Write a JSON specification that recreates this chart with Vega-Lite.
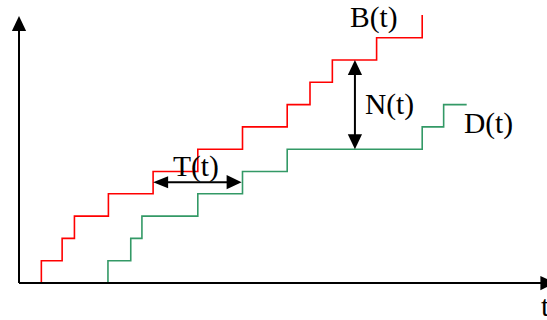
{
  "$schema": "https://vega.github.io/schema/vega-lite/v6.json",
  "width": 528,
  "height": 283,
  "padding": {"left": 19, "top": 0, "right": 0, "bottom": 37},
  "autosize": {"type": "none"},
  "background": "white",
  "config": {"view": {"stroke": null}},
  "datasets": {
    "steps": [
      {"series": "B", "i": 0, "t": 1, "n": 0},
      {"series": "B", "i": 1, "t": 1, "n": 1},
      {"series": "B", "i": 2, "t": 1.93, "n": 2},
      {"series": "B", "i": 3, "t": 2.48, "n": 3},
      {"series": "B", "i": 4, "t": 4, "n": 4},
      {"series": "B", "i": 5, "t": 6, "n": 5},
      {"series": "B", "i": 6, "t": 8, "n": 6},
      {"series": "B", "i": 7, "t": 10, "n": 7},
      {"series": "B", "i": 8, "t": 12, "n": 8},
      {"series": "B", "i": 9, "t": 13.02, "n": 9},
      {"series": "B", "i": 10, "t": 14.02, "n": 10},
      {"series": "B", "i": 11, "t": 16, "n": 11},
      {"series": "B", "i": 12, "t": 18.04, "n": 12.02},
      {"series": "D", "i": 0, "t": 3.98, "n": 0},
      {"series": "D", "i": 1, "t": 3.98, "n": 1},
      {"series": "D", "i": 2, "t": 5, "n": 2},
      {"series": "D", "i": 3, "t": 5.5, "n": 3},
      {"series": "D", "i": 4, "t": 8, "n": 4},
      {"series": "D", "i": 5, "t": 10, "n": 5},
      {"series": "D", "i": 6, "t": 12, "n": 6},
      {"series": "D", "i": 7, "t": 18.04, "n": 7},
      {"series": "D", "i": 8, "t": 19, "n": 8},
      {"series": "D", "i": 9, "t": 20.03, "n": 8}
    ],
    "segments": [
      {"name": "y-axis", "t0": 0, "n0": 0, "t1": 0, "n1": 11.5},
      {"name": "x-axis", "t0": 0, "n0": 0, "t1": 23.5, "n1": 0},
      {"name": "T", "t0": 6.3, "n0": 4.52, "t1": 9.7, "n1": 4.52},
      {"name": "N", "t0": 15.03, "n0": 9.7, "t1": 15.03, "n1": 6.3}
    ],
    "heads": [
      {"name": "y-axis", "t": 0, "n": 11.97, "dir": "up"},
      {"name": "x-axis", "t": 24, "n": 0, "dir": "right"},
      {"name": "T", "t": 6.0, "n": 4.52, "dir": "left"},
      {"name": "T", "t": 9.96, "n": 4.52, "dir": "right"},
      {"name": "N", "t": 15.03, "n": 10.0, "dir": "up"},
      {"name": "N", "t": 15.03, "n": 6.0, "dir": "down"}
    ],
    "labels": [
      {"label": "B(t)", "t": 14.81, "n": 11.49},
      {"label": "N(t)", "t": 15.48, "n": 7.6},
      {"label": "D(t)", "t": 19.91, "n": 6.71},
      {"label": "T(t)", "t": 6.89, "n": 4.8},
      {"label": "t", "t": 23.36, "n": -1.48}
    ]
  },
  "layer": [
    {
      "data": {"name": "steps"},
      "mark": {"type": "line", "interpolate": "step-after", "strokeWidth": 1.6},
      "encoding": {
        "x": {"field": "t", "type": "quantitative", "scale": {"domain": [0, 23.624], "zero": false, "nice": false}, "axis": null},
        "y": {"field": "n", "type": "quantitative", "scale": {"domain": [0, 12.691], "zero": false, "nice": false}, "axis": null},
        "color": {"field": "series", "type": "nominal", "scale": {"domain": ["B", "D"], "range": ["#ff0000", "#339966"]}, "legend": null},
        "order": {"field": "i", "type": "quantitative"}
      }
    },
    {
      "data": {"name": "segments"},
      "mark": {"type": "rule", "color": "black", "strokeWidth": 2},
      "encoding": {
        "x": {"field": "t0", "type": "quantitative", "scale": {"domain": [0, 23.624], "zero": false, "nice": false}, "axis": null},
        "y": {"field": "n0", "type": "quantitative", "scale": {"domain": [0, 12.691], "zero": false, "nice": false}, "axis": null},
        "x2": {"field": "t1"},
        "y2": {"field": "n1"}
      }
    },
    {
      "data": {"name": "heads"},
      "mark": {"type": "point", "filled": true, "color": "black", "opacity": 1, "size": 225, "strokeWidth": 0},
      "encoding": {
        "x": {"field": "t", "type": "quantitative", "scale": {"domain": [0, 23.624], "zero": false, "nice": false}, "axis": null},
        "y": {"field": "n", "type": "quantitative", "scale": {"domain": [0, 12.691], "zero": false, "nice": false}, "axis": null},
        "shape": {"field": "dir", "type": "nominal", "legend": null, "scale": {"domain": ["up", "down", "left", "right"], "range": ["M0,0L-0.95,2L0.95,2Z", "M0,0L-0.95,-2L0.95,-2Z", "M0,0L2,-0.8L2,0.8Z", "M0,0L-2,-0.95L-2,0.95Z"]}}
      }
    },
    {
      "data": {"name": "labels"},
      "mark": {"type": "text", "align": "left", "baseline": "alphabetic", "font": "Liberation Serif", "fontSize": 29.5, "color": "black"},
      "encoding": {
        "x": {"field": "t", "type": "quantitative", "scale": {"domain": [0, 23.624], "zero": false, "nice": false}, "axis": null},
        "y": {"field": "n", "type": "quantitative", "scale": {"domain": [0, 12.691], "zero": false, "nice": false}, "axis": null},
        "text": {"field": "label", "type": "nominal"}
      }
    }
  ]
}
